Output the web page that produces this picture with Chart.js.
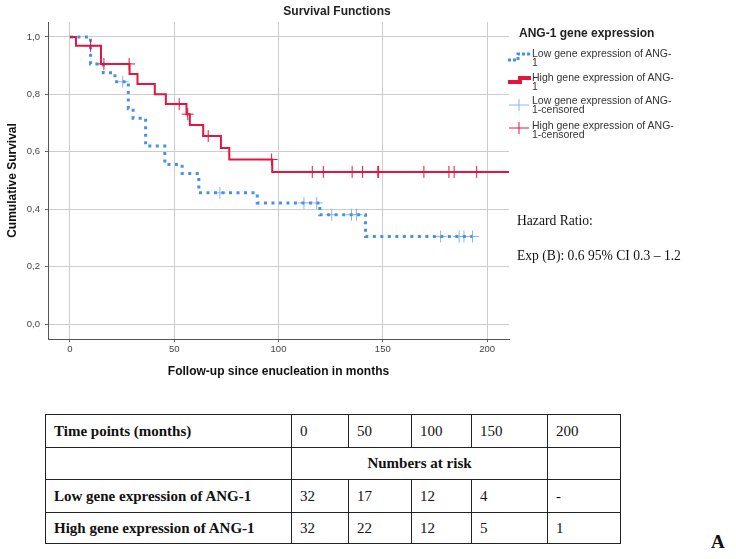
<!DOCTYPE html>
<html>
<head>
<meta charset="utf-8">
<script src="https://cdn.jsdelivr.net/npm/chart.js@4.4.1/dist/chart.umd.min.js"></script>
<style>
  body { margin: 0; background: #fff; }
  #wrap { position: relative; width: 736px; height: 559px; overflow: hidden; font-family: "Liberation Sans", Arial, sans-serif; color: #222; }
  #km { position: absolute; left: 0; top: 0; }
  .abs { position: absolute; white-space: nowrap; }
  #title { left: 337px; top: 4px; transform: translateX(-50%); font-weight: bold; font-size: 12px; }
  #legTitle { left: 519px; top: 26px; font-weight: bold; font-size: 12px; }
  .legItem { left: 532px; font-size: 10.5px; line-height: 9px; color: #333; }
  .serif { font-family: "Liberation Serif", "Times New Roman", serif; font-size: 13.6px; color: #111; }
  #risk { position: absolute; left: 45px; top: 414px; width: 575px; table-layout: fixed; border-collapse: collapse; font-family: "Liberation Serif", "Times New Roman", serif; font-size: 15px; color: #111; }
  #risk td { border: 1.5px solid #222; padding: 0 0 0 8px; text-align: left; white-space: nowrap; overflow: hidden; }
  #risk td.lab { font-weight: bold; }
  #risk td.mid { text-align: center; font-weight: bold; padding: 0; }
</style>
</head>
<body>
<div id="wrap">
  <canvas id="km" width="736" height="395"></canvas>
  <div id="title" class="abs">Survival Functions</div>

  <div id="legTitle" class="abs">ANG-1 gene expression</div>
  <svg class="abs" style="left:0;top:0" width="736" height="150">
    <polyline points="508,60 518,60 518,54 531,54" fill="none" stroke="#4a8fe6" stroke-width="3" stroke-dasharray="3,2"/>
    <polyline points="508,82 520,82 520,78 531,78" fill="none" stroke="#e3163f" stroke-width="4"/>
    <line x1="509" y1="105" x2="529" y2="105" stroke="#8ab6ec" stroke-width="1"/>
    <line x1="519" y1="99" x2="519" y2="111" stroke="#8ab6ec" stroke-width="1"/>
    <line x1="509" y1="128" x2="529" y2="128" stroke="#e3163f" stroke-width="1"/>
    <line x1="519" y1="122" x2="519" y2="134" stroke="#e3163f" stroke-width="1"/>
  </svg>
  <div class="abs legItem" style="top:49px">Low gene expression of ANG-<br>1</div>
  <div class="abs legItem" style="top:73px">High gene expression of ANG-<br>1</div>
  <div class="abs legItem" style="top:96px">Low gene expression of ANG-<br>1-censored</div>
  <div class="abs legItem" style="top:121px">High gene expression of ANG-<br>1-censored</div>

  <div class="abs serif" style="left:517px;top:213px">Hazard Ratio:</div>
  <div class="abs serif" style="left:517px;top:248px">Exp (B): 0.6 95% CI 0.3 – 1.2</div>

  <table id="risk"></table>
  <div class="abs serif" style="left:711px;top:531px;font-size:19px;font-weight:bold">A</div>
</div>

<script>
// axis ticks
const xTicks = [0, 50, 100, 150, 200];
const yTicks = [0, 0.2, 0.4, 0.6, 0.8, 1.0];

// Kaplan-Meier steps (months, cumulative survival)
const lowTimes = [0, 9.9, 16, 21.6, 28, 30.3, 36.3, 45.5, 53.8, 61.8, 89.8, 119.8, 141.7, 193];
const lowSurv  = [1.0, 0.906, 0.875, 0.844, 0.75, 0.717, 0.62, 0.556, 0.524, 0.457, 0.422, 0.381, 0.305, 0.305];
const lowCensored = [25.3, 71.9, 112.2, 118.3, 125.5, 135, 137.4, 177.7, 186.6, 188.9, 193];

const highTimes = [0, 2.9, 14.9, 28.6, 32.4, 40.7, 46, 55.9, 57.5, 63.9, 72.4, 76.4, 97, 210.5];
const highSurv  = [1.0, 0.969, 0.906, 0.871, 0.836, 0.80, 0.766, 0.731, 0.693, 0.655, 0.613, 0.573, 0.53, 0.53];
const highCensored = [9.9, 16.3, 28.4, 52.4, 56.5, 66.3, 96.7, 116.2, 121.5, 135.3, 140.3, 147.6, 148, 169.7, 181.7, 184.2, 195];

// numbers at risk table
const timePoints = [0, 50, 100, 150, 200];
const lowAtRisk = ["32", "17", "12", "4", "-"];
const highAtRisk = ["32", "22", "12", "5", "1"];

const BLUE = "#4a8fe6";
const BLUE_LIGHT = "#8ab6ec";
const RED = "#e3163f";

function steps(times, surv) {
  return times.map((t, i) => ({ x: t, y: surv[i] }));
}

// censored marks sit on the curve
function onCurve(times, surv, censored) {
  return censored.map(t => {
    let s = surv[0];
    for (let i = 0; i < times.length; i++) if (times[i] <= t) s = surv[i];
    return { x: t, y: s };
  });
}

new Chart(document.getElementById("km"), {
  type: "scatter",
  data: {
    datasets: [
      {
        label: "Low gene expression of ANG-1",
        data: steps(lowTimes, lowSurv),
        showLine: true, stepped: true,
        borderColor: BLUE, borderWidth: 3, borderDash: [3, 4.5],
        pointRadius: 0, order: 2
      },
      {
        label: "High gene expression of ANG-1",
        data: steps(highTimes, highSurv),
        showLine: true, stepped: true,
        borderColor: RED, borderWidth: 2,
        pointRadius: 0, order: 1
      },
      {
        label: "Low gene expression of ANG-1-censored",
        data: onCurve(lowTimes, lowSurv, lowCensored),
        pointStyle: "cross", pointRadius: 6, borderWidth: 1,
        borderColor: BLUE_LIGHT, order: 2
      },
      {
        label: "High gene expression of ANG-1-censored",
        data: onCurve(highTimes, highSurv, highCensored),
        pointStyle: "cross", pointRadius: 6, borderWidth: 1,
        borderColor: RED, order: 0
      }
    ]
  },
  options: {
    responsive: false,
    animation: false,
    devicePixelRatio: 1,
    layout: { padding: { left: 0, right: 227, top: 22, bottom: 0 } },
    plugins: { legend: { display: false }, tooltip: { enabled: false } },
    scales: {
      x: {
        type: "linear", min: -10.5, max: 210.5,
        afterBuildTicks: s => { s.ticks = xTicks.map(v => ({ value: v })); },
        afterFit: s => { s.height = 56; },
        ticks: { padding: 2, color: "#444", font: { size: 9.5 } },
        grid: { color: "#cdcdcd", tickLength: 3, tickColor: "#666" },
        border: { color: "#555" },
        title: {
          display: true, text: "Follow-up since enucleation in months",
          color: "#111", font: { size: 12, weight: "bold" }, padding: { bottom: 15.8 }
        }
      },
      y: {
        type: "linear", min: -0.052, max: 1.052,
        afterBuildTicks: s => { s.ticks = yTicks.map(v => ({ value: v })); },
        afterFit: s => { s.width = 48; },
        ticks: { padding: 5, color: "#444", font: { size: 9.5 },
                 callback: v => v.toFixed(1).replace(".", ",") },
        grid: { color: "#cdcdcd", tickLength: 3, tickColor: "#666" },
        border: { color: "#555" },
        title: {
          display: true, text: "Cumulative Survival",
          color: "#111", font: { size: 12, weight: "bold" }, padding: { top: 5 }
        }
      }
    }
  }
});

// table
const colW = [246, 57, 63, 60, 76, 73];
const table = document.getElementById("risk");
const cg = document.createElement("colgroup");
colW.forEach(w => {
  const col = document.createElement("col");
  col.style.width = w + "px";
  cg.appendChild(col);
});
table.appendChild(cg);

function row(cells, h) {
  const tr = document.createElement("tr");
  tr.style.height = h + "px";
  cells.forEach(c => {
    const td = document.createElement("td");
    td.textContent = c.text;
    if (c.cls) td.className = c.cls;
    if (c.span) td.colSpan = c.span;
    tr.appendChild(td);
  });
  table.appendChild(tr);
}
row([{ text: "Time points (months)", cls: "lab" }].concat(timePoints.map(t => ({ text: String(t) }))), 33);
row([{ text: "" }, { text: "Numbers at risk", cls: "mid", span: 4 }, { text: "" }], 32);
row([{ text: "Low gene expression of ANG-1", cls: "lab" }].concat(lowAtRisk.map(v => ({ text: v }))), 33);
row([{ text: "High gene expression of ANG-1", cls: "lab" }].concat(highAtRisk.map(v => ({ text: v }))), 31);
</script>
</body>
</html>
